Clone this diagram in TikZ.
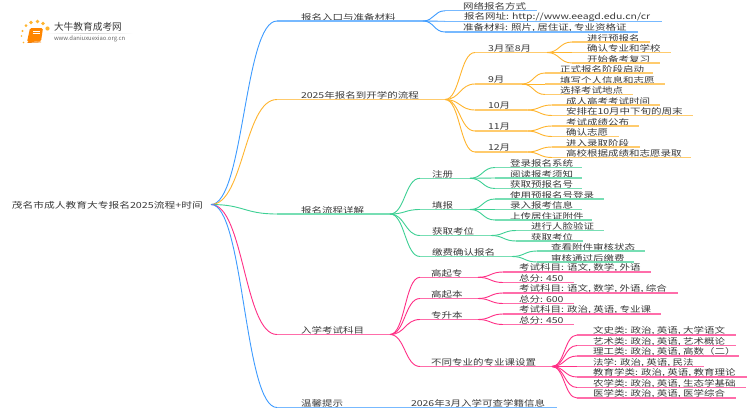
\documentclass[tikz,border=0pt]{standalone}
\usepackage{fontspec}
\setmainfont{Noto Sans CJK SC}
\usetikzlibrary{calc}
\definecolor{cblue}{HTML}{3D9BFF}
\definecolor{corange}{HTML}{FFB52E}
\definecolor{cgreen}{HTML}{3DD094}
\definecolor{cpink}{HTML}{FF2F86}
\definecolor{ctext}{HTML}{3A3A3A}
\tikzset{
  lbl/.style={anchor=west,inner sep=0pt,outer sep=0pt,text=ctext,font=\fontsize{10.5pt}{11pt}\selectfont},
  curveline/.style={line width=.9pt},
  underline/.style={line width=1.1pt}
}
% name, parent, colour, xstart, xend, y, textx, text
\newcommand\branchnode[8]{%
  \coordinate (#1-s) at (#4,#6);
  \coordinate (#1) at (#5,#6);
  \node[lbl] (#1-t) at (#7,#6-4) {\scalebox{1}[.78]{#8}};
  \coordinate (#1-m) at ($(#2)!.5!(#1-s)$);
  \draw[curveline,#3] (#2) .. controls (#1-m |- #2) and (#1-m |- #1-s) .. (#1-s);
  \draw[underline,#3!70] (#1-s) -- (#1);
}
\begin{document}
\begin{tikzpicture}[x=1pt,y=-1pt]
\useasboundingbox (0,0) rectangle (750,410);
\fill[white] (0,0) rectangle (750,410);
% logo
\foreach \px/\py/\pr in {22.5/31/1.1,21.5/36/.9,23.5/42.5/.8,26/25.5/1.5,31/22.5/1.8,37.5/21.5/1.9,43/23.5/1.9,47.5/28.5/2.1}
  \fill[corange] (\px,\py) circle (\pr);
\fill[orange!95!yellow,rounded corners=1.5pt] (30,28) -- (43,28) -- (41,41.5) -- (27,42) -- cycle;
\draw[white,line width=.5pt] (33,31) -- (40,31) (32.5,33.5) -- (39.5,33.5);
\draw[orange!80!brown,line width=.8pt] (27.5,42.5) -- (41,42);
\node[lbl,text=ctext] (logot) at (54,27) {\fontsize{9.7pt}{10pt}\selectfont 大牛教育成考网};
\node[lbl,text=black!60] (logou) at (54,38.5) {\fontsize{5.9pt}{7pt}\selectfont www.daniuxuexiao.org.cn};
\shade[left color=white,right color=white,middle color=black!18] (45,33) rectangle (133,33.4);
% root
\coordinate (root) at (211,204.5);
\node[lbl] (roott) at (12,205.5) {\scalebox{1.022}[.8]{茂名市成人教育大专报名2025流程+时间}};
% blue 1
\branchnode{a}{root}{cblue}{277}{423}{21}{301}{报名入口与准备材料}
\branchnode{a1}{a}{cblue}{445}{537}{10.8}{463}{网络报名方式}
\branchnode{a2}{a}{cblue}{445}{662}{21.3}{464}{报名网址: http://www.eeagd.edu.cn/cr}
\branchnode{a3}{a}{cblue}{445}{638}{32}{463}{准备材料: 照片, 居住证, 专业资格证}
% orange
\branchnode{b}{root}{corange}{277}{445}{99.5}{301}{2025年报名到开学的流程}
\branchnode{b1}{b}{corange}{475}{547}{52.5}{488}{3月至8月}
\branchnode{b11}{b1}{corange}{572}{650}{42}{587}{进行预报名}
\branchnode{b12}{b1}{corange}{572}{671}{52.5}{587}{确认专业和学校}
\branchnode{b13}{b1}{corange}{572}{660}{63}{587}{开始备考复习}
\branchnode{b2}{b}{corange}{475}{522}{84}{488}{9月}
\branchnode{b21}{b2}{corange}{545}{653}{73}{560}{正式报名阶段启动}
\branchnode{b22}{b2}{corange}{545}{665}{84}{560}{填写个人信息和志愿}
\branchnode{b23}{b2}{corange}{545}{633}{94.5}{560}{选择考试地点}
\branchnode{b3}{b}{corange}{475}{527}{110}{488}{10月}
\branchnode{b31}{b3}{corange}{552}{660}{105}{566}{成人高考考试时间}
\branchnode{b32}{b3}{corange}{552}{693}{115.5}{566}{安排在10月中下旬的周末}
\branchnode{b4}{b}{corange}{475}{527}{131}{488}{11月}
\branchnode{b41}{b4}{corange}{552}{639}{126}{566}{考试成绩公布}
\branchnode{b42}{b4}{corange}{552}{619}{136.5}{566}{确认志愿}
\branchnode{b5}{b}{corange}{475}{527}{152}{488}{12月}
\branchnode{b51}{b5}{corange}{552}{640}{147}{566}{进入录取阶段}
\branchnode{b52}{b5}{corange}{552}{691}{157.5}{566}{高校根据成绩和志愿录取}
% green
\branchnode{c}{root}{cgreen}{277}{390}{214}{301}{报名流程详解}
\branchnode{c1}{c}{cgreen}{420}{470}{178.3}{432}{注册}
\branchnode{c11}{c1}{cgreen}{495}{582}{167.5}{510}{登录报名系统}
\branchnode{c12}{c1}{cgreen}{495}{582}{178}{510}{阅读报考须知}
\branchnode{c13}{c1}{cgreen}{495}{582}{188.5}{510}{获取预报名号}
\branchnode{c2}{c}{cgreen}{420}{470}{209.5}{432}{填报}
\branchnode{c21}{c2}{cgreen}{495}{604}{199}{510}{使用预报名号登录}
\branchnode{c22}{c2}{cgreen}{495}{582}{209.5}{510}{录入报考信息}
\branchnode{c23}{c2}{cgreen}{495}{592}{220}{510}{上传居住证附件}
\branchnode{c3}{c}{cgreen}{420}{491}{235.5}{432}{获取考位}
\branchnode{c31}{c3}{cgreen}{516}{604}{230.5}{531}{进行人脸验证}
\branchnode{c32}{c3}{cgreen}{516}{583}{241}{531}{获取考位}
\branchnode{c4}{c}{cgreen}{420}{512}{256.5}{432}{缴费确认报名}
\branchnode{c41}{c4}{cgreen}{537}{645}{251}{551}{查看附件审核状态}
\branchnode{c42}{c4}{cgreen}{537}{634}{262}{551}{审核通过后缴费}
% pink
\branchnode{d}{root}{cpink}{277}{390}{334.5}{301}{入学考试科目}
\branchnode{d1}{d}{cpink}{420}{478}{277.3}{431}{高起专}
\branchnode{d11}{d1}{cpink}{503}{651}{272}{519}{考试科目: 语文, 数学, 外语}
\branchnode{d12}{d1}{cpink}{503}{574}{282.5}{519}{总分: 450}
\branchnode{d2}{d}{cpink}{420}{478}{298.5}{431}{高起本}
\branchnode{d21}{d2}{cpink}{503}{678}{293}{519}{考试科目: 语文, 数学, 外语, 综合}
\branchnode{d22}{d2}{cpink}{503}{574}{303.5}{519}{总分: 600}
\branchnode{d3}{d}{cpink}{420}{478}{319.5}{431}{专升本}
\branchnode{d31}{d3}{cpink}{503}{661}{314}{519}{考试科目: 政治, 英语, 专业课}
\branchnode{d32}{d3}{cpink}{503}{574}{324.5}{519}{总分: 450}
\branchnode{d4}{d}{cpink}{420}{552}{366.5}{431}{不同专业的专业课设置}
\branchnode{d41}{d4}{cpink}{577}{736}{335}{593}{文史类: 政治, 英语, 大学语文}
\branchnode{d42}{d4}{cpink}{577}{736}{345.5}{593}{艺术类: 政治, 英语, 艺术概论}
\branchnode{d43}{d4}{cpink}{577}{739}{356}{593}{理工类: 政治, 英语, 高数（二）}
\branchnode{d44}{d4}{cpink}{577}{704}{366.5}{593}{法学: 政治, 英语, 民法}
\branchnode{d45}{d4}{cpink}{577}{747}{377}{593}{教育学类: 政治, 英语, 教育理论}
\branchnode{d46}{d4}{cpink}{577}{746}{387.5}{593}{农学类: 政治, 英语, 生态学基础}
\branchnode{d47}{d4}{cpink}{577}{736}{398}{593}{医学类: 政治, 英语, 医学综合}
% last
\branchnode{e}{root}{cblue}{277}{390}{407.5}{301}{温馨提示}
\branchnode{e1}{e}{cblue}{390}{557}{407.5}{411}{2026年3月入学可查学籍信息}
\end{tikzpicture}
\end{document}
